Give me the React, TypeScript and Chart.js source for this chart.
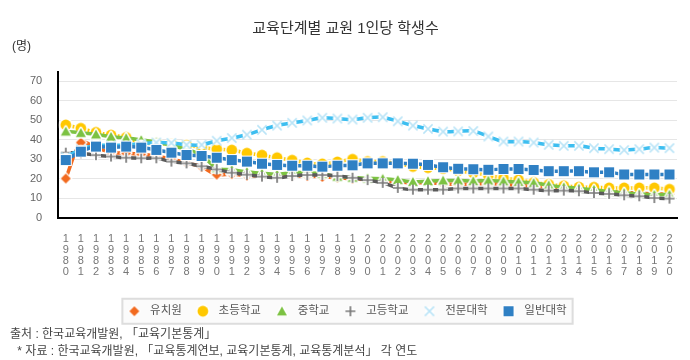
import React, { useEffect, useRef } from 'react';
import { Chart, registerables } from 'chart.js';

Chart.register(...registerables);

const titleText = '교육단계별 교원 1인당 학생수';
const unitText = '(명)';
const sourceLine1 = '출처 : 한국교육개발원, 「교육기본통계」';
const sourceLine2 = ' * 자료 : 한국교육개발원, 「교육통계연보, 교육기본통계, 교육통계분석」 각 연도';

const years = [
  '1980', '1981', '1982', '1983', '1984', '1985', '1986', '1987', '1988', '1989',
  '1990', '1991', '1992', '1993', '1994', '1995', '1996', '1997', '1998', '1999',
  '2000', '2001', '2002', '2003', '2004', '2005', '2006', '2007', '2008', '2009',
  '2010', '2011', '2012', '2013', '2014', '2015', '2016', '2017', '2018', '2019', '2020',
];

const yTicks = [0, 10, 20, 30, 40, 50, 60, 70];

const kindergarten = [20, 38.5, 36, 33.5, 33, 32.5, 31.5, 30, 28, 26, 22, 22.3, 21.5, 21.3, 21.2, 21.3, 21.3, 20.8, 20.4, 19.8, 19.5, 18.8, 18.3, 17.8, 17.8, 17.3, 17, 17.2, 17.5, 17, 16.5, 16, 15.5, 15, 14.5, 14, 13.5, 13, 12.5, 12.1, 12.1];
const elementary = [47.5, 45.8, 43.7, 42.3, 41.1, 38.3, 38, 37.5, 37, 36, 35.1, 34.6, 33, 32, 30.7, 29.4, 28, 27.5, 28.5, 29.9, 28.7, 28.7, 27.5, 26.2, 25.6, 25.1, 24, 22.9, 21.6, 20.2, 19.3, 18, 17, 16.3, 15.6, 15.5, 15.2, 15.2, 15.2, 15.2, 14.5];
const middle = [44.2, 43.5, 42.7, 41.5, 40.8, 39.8, 38.8, 37, 35, 32, 25.4, 24.5, 23.5, 22.7, 22.2, 23, 23, 22.5, 21, 20.5, 20.1, 19.9, 19.3, 18.3, 18.7, 19, 19, 18.7, 19, 18.6, 18.2, 17.8, 16.6, 15.6, 14.9, 14.3, 13.3, 12.7, 12.1, 11.7, 11.8];
const high = [33.3, 33, 32, 31.3, 30.7, 30.4, 30.4, 28.7, 27.8, 26.3, 24.7, 23, 22, 21, 20.4, 21.3, 21.8, 21.8, 21.3, 20.4, 19.2, 17.8, 15.2, 14.3, 14.3, 14.3, 14.9, 14.9, 14.9, 14.9, 14.9, 14.3, 13.8, 13.8, 13.5, 12.6, 12.1, 11.4, 10.9, 10, 9.7];
const juniorCollege = [31, 35, 37, 37, 37.2, 37.8, 38.5, 38.3, 37.3, 37.3, 39.4, 40.8, 42.5, 45, 47.2, 48.6, 49.8, 51.2, 50.8, 50.3, 51.2, 51.5, 49.4, 47.2, 45.5, 44.1, 44.2, 44.4, 41.6, 39, 39, 38.5, 37.3, 36.8, 36.8, 35.6, 35.1, 34.6, 35.1, 35.9, 35.6];
const university = [29.5, 33.8, 36.4, 35.9, 36.4, 35.9, 34.7, 33.3, 32.1, 31.6, 30.7, 29.5, 28.7, 27.6, 27, 26.6, 26.6, 26.1, 26.6, 26.8, 27.8, 27.8, 27.8, 27.6, 27, 25.8, 25, 24.8, 24.5, 24.9, 24.9, 24.4, 23.8, 23.8, 23.8, 23.2, 23.2, 22.1, 22.1, 22.1, 22.1];

const seriesNames = ['유치원', '초등학교', '중학교', '고등학교', '전문대학', '일반대학'];

const FONT = "Arial, 'Liberation Sans', 'Noto Sans CJK KR', sans-serif";

function mk(size: number, draw: (c: CanvasRenderingContext2D, m: number) => void) {
  const cv = document.createElement('canvas');
  cv.width = size;
  cv.height = size;
  const c = cv.getContext('2d')!;
  draw(c, size / 2);
  return cv;
}

function diamond(color: string) {
  return mk(14, (c, m) => {
    c.fillStyle = '#fff';
    c.beginPath();
    c.moveTo(m, m - 6.8); c.lineTo(m + 6.8, m); c.lineTo(m, m + 6.8); c.lineTo(m - 6.8, m); c.closePath();
    c.fill();
    c.fillStyle = color;
    c.beginPath();
    c.moveTo(m, m - 5); c.lineTo(m + 5, m); c.lineTo(m, m + 5); c.lineTo(m - 5, m); c.closePath();
    c.fill();
  });
}
function circle(color: string) {
  return mk(16, (c, m) => {
    c.fillStyle = '#fff';
    c.beginPath(); c.arc(m, m, 7, 0, Math.PI * 2); c.fill();
    c.fillStyle = color;
    c.beginPath(); c.arc(m, m, 5.4, 0, Math.PI * 2); c.fill();
  });
}
function triangle(color: string) {
  return mk(14, (c, m) => {
    c.beginPath();
    c.moveTo(m, m - 4.8); c.lineTo(m + 5, m + 4.2); c.lineTo(m - 5, m + 4.2); c.closePath();
    c.strokeStyle = '#fff'; c.lineWidth = 3; c.lineJoin = 'round'; c.stroke();
    c.fillStyle = color; c.fill();
  });
}
function plus(color: string) {
  return mk(14, (c, m) => {
    c.beginPath();
    c.moveTo(m - 5, m); c.lineTo(m + 5, m);
    c.moveTo(m, m - 5); c.lineTo(m, m + 5);
    c.strokeStyle = '#fff'; c.lineWidth = 4.5; c.stroke();
    c.strokeStyle = color; c.lineWidth = 1.7; c.stroke();
  });
}
function cross(color: string) {
  return mk(14, (c, m) => {
    c.fillStyle = '#fff';
    c.beginPath(); c.arc(m, m, 4.5, 0, Math.PI * 2); c.fill();
    c.beginPath();
    c.moveTo(m - 4.6, m - 4.6); c.lineTo(m + 4.6, m + 4.6);
    c.moveTo(m + 4.6, m - 4.6); c.lineTo(m - 4.6, m + 4.6);
    c.strokeStyle = color; c.lineWidth = 1.5; c.stroke();
  });
}
function square(color: string) {
  return mk(14, (c) => {
    c.fillStyle = '#fff'; c.fillRect(1, 1, 12, 12);
    c.fillStyle = color; c.fillRect(2, 2, 10, 10);
  });
}

const extrasPlugin = {
  id: 'extras',
  beforeDraw(chart: any) {
    const lg = chart.legend;
    if (!lg || !lg.legendHitBoxes || !lg.legendHitBoxes.length) return;
    const hb = lg.legendHitBoxes;
    const left = hb[0].left - 2;
    const last = hb[hb.length - 1];
    const right = last.left + last.width + 6;
    const cy = hb[0].top + hb[0].height / 2;
    const ctx = chart.ctx;
    ctx.save();
    ctx.fillStyle = '#fbfbfb';
    ctx.fillRect(left, cy - 12.5, right - left, 25);
    ctx.strokeStyle = '#dddddd';
    ctx.lineWidth = 2;
    ctx.strokeRect(left, cy - 12.5, right - left, 25);
    ctx.restore();
  },
  afterDraw(chart: any) {
    const ctx = chart.ctx;
    ctx.save();
    ctx.fillStyle = '#333';
    ctx.font = `12px ${FONT}`;
    ctx.textBaseline = 'middle';
    ctx.textAlign = 'left';
    ctx.fillText(unitText, 12, 47);
    ctx.fillStyle = '#444';
    ctx.fillText(sourceLine1, 10, 335);
    ctx.fillText(sourceLine2, 14, 352);
    ctx.restore();
  },
};

export default function App() {
  const ref = useRef<HTMLCanvasElement>(null);
  useEffect(() => {
    if (!ref.current) return;
    const orange = '#F26A1F';
    const yellow = '#FFC800';
    const green = '#7CC242';
    const gray = '#5A5A5A';
    const cyan = '#3DBEF0';
    const blue = '#2F80C4';
    const mkDs = (i: number, data: number[], line: string, marker: HTMLCanvasElement, order: number) => ({
      label: seriesNames[i],
      data,
      borderColor: line,
      backgroundColor: line,
      borderWidth: 3.5,
      pointStyle: marker,
      pointRadius: 6,
      pointHoverRadius: 6,
      tension: 0.3,
      order,
    });
    const chart = new Chart(ref.current, {
      type: 'line',
      data: {
        labels: years,
        datasets: [
          mkDs(0, kindergarten, orange, diamond(orange), 5),
          mkDs(1, elementary, yellow, circle(yellow), 4),
          mkDs(2, middle, green, triangle(green), 3),
          mkDs(3, high, gray, plus('#7a7a7a'), 2),
          mkDs(4, juniorCollege, cyan, cross('#B9E4F7'), 1),
          mkDs(5, university, blue, square(blue), 0),
        ],
      },
      options: {
        animation: false,
        responsive: false,
        maintainAspectRatio: false,
        layout: { padding: { left: 14, right: 13, top: 0, bottom: 33 } },
        font: { family: FONT },
        plugins: {
          title: {
            display: true,
            text: titleText,
            color: '#333',
            font: { size: 15, weight: 'normal', family: FONT },
            padding: { top: 20, bottom: 34 },
          },
          legend: {
            position: 'bottom',
            labels: {
              usePointStyle: true,
              pointStyleWidth: 20,
              padding: 11,
              color: '#555',
              font: { size: 11.5, family: FONT },
              sort: (a: any, b: any) => a.datasetIndex - b.datasetIndex,
            },
          },
          tooltip: { enabled: false },
        },
        scales: {
          x: {
            type: 'category',
            offset: true,
            grid: { display: true, drawOnChartArea: false, drawTicks: false },
            border: { color: '#000', width: 2 },
            ticks: {
              autoSkip: false,
              maxRotation: 0,
              minRotation: 0,
              padding: 16,
              color: '#777',
              font: { size: 11, family: FONT, lineHeight: 1.0 },
              callback: (_v: any, i: number) => years[i].split(''),
            },
            afterFit: (s: any) => { s.height = 77; },
          },
          y: {
            min: 0,
            max: 74.7,
            grid: { color: '#e6e6e6', drawTicks: false },
            border: { color: '#000', width: 2 },
            ticks: {
              stepSize: 10,
              padding: 16,
              color: '#666',
              font: { size: 11, family: FONT },
            },
            afterBuildTicks: (s: any) => {
              s.ticks = yTicks.map((v) => ({ value: v }));
            },
          },
        },
      },
      plugins: [extrasPlugin],
    } as any);
    return () => chart.destroy();
  }, []);
  return (
    <div style={{ position: 'absolute', left: 0, top: 0, width: 690, height: 360, background: '#fff' }}>
      <canvas ref={ref} width={690} height={360} style={{ width: 690, height: 360, display: 'block' }} />
    </div>
  );
}
